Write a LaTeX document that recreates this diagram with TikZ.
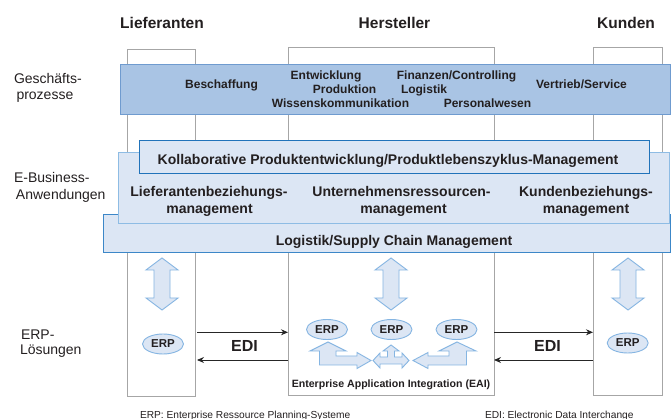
\documentclass[tikz,border=0pt]{standalone}
\usepackage{fontspec}
\setmainfont{Liberation Sans}
\usetikzlibrary{shapes.geometric,arrows.meta}
\definecolor{colgray}{HTML}{A6A6A6}
\definecolor{gpfill}{HTML}{A9C4E4}
\definecolor{gpdraw}{HTML}{6F9BCF}
\definecolor{ebfill}{HTML}{DCE6F4}
\definecolor{ebdark}{HTML}{2173BA}
\definecolor{eblight}{HTML}{8EBCE4}
\definecolor{ebmid}{HTML}{3C87C8}
\definecolor{arrdraw}{HTML}{85B5E2}
\definecolor{txt}{HTML}{231F20}
\newcommand\fhead{\fontsize{15.5}{18}\selectfont\bfseries}
\newcommand\fgp{\fontsize{12}{14}\selectfont\bfseries}
\newcommand\feb{\fontsize{14}{16}\selectfont\bfseries}
\newcommand\flab{\fontsize{14}{16}\selectfont}
\newcommand\fedi{\fontsize{16}{18}\selectfont\bfseries}
\newcommand\ferp{\fontsize{11.5}{13}\selectfont\bfseries}
\newcommand\feai{\fontsize{10.6}{12}\selectfont\bfseries}
\newcommand\fnote{\fontsize{10.2}{12}\selectfont}
\begin{document}
\begin{tikzpicture}[x=1pt,y=-1pt,
  every node/.style={inner sep=0pt, outer sep=0pt, text=txt},
  colbox/.style={draw=colgray, fill=white, line width=0.9, anchor=north west},
  gpband/.style={draw=gpdraw, fill=gpfill, line width=1, anchor=north west},
  ebbox/.style={fill=ebfill, line width=0.85, anchor=north west},
  gptext/.style={font=\fgp, anchor=base},
  ebtext/.style={font=\feb, anchor=base},
  lab/.style={font=\flab, anchor=base west},
  head/.style={font=\fhead, anchor=base},
  erp/.style={ellipse, draw=arrdraw, fill=ebfill, line width=0.9, minimum width=41, minimum height=20, font=\ferp},
  blockarr/.style={draw=arrdraw, fill=ebfill, line width=0.9, line join=miter},
  edi/.style={draw=black!85, line width=0.9, -{Stealth[length=7pt,width=6pt]}},
  vdbl/.pic={\path[blockarr] (0,0) -- (16,12) -- (8,12) -- (8,40) -- (16,40) -- (0,52) -- (-16,40) -- (-8,40) -- (-8,12) -- (-16,12) -- cycle;}
]
\useasboundingbox (0,0) rectangle (672,419);

% columns
\node[colbox, minimum width=68, minimum height=347] (lief) at (127,49) {};
\node[colbox, minimum width=206, minimum height=348] (herst) at (288,47) {};
\node[colbox, minimum width=69, minimum height=348] (kund) at (593,47) {};

% headers
\node[head] (hl) at (162,29) {Lieferanten};
\node[head] (hh) at (394.5,29) {Hersteller};
\node[head] (hk) at (626,29) {Kunden};

% left labels
\node[lab] (l1a) at (14,84) {Geschäfts-};
\node[lab] (l1b) at (16.5,100) {prozesse};
\node[lab] (l2a) at (14,183) {E-Business-};
\node[lab] (l2b) at (16,200) {Anwendungen};
\node[lab] (l3a) at (21,340) {ERP-};
\node[lab] (l3b) at (20,355) {Lösungen};

% Geschaeftsprozesse band
\node[gpband, minimum width=550, minimum height=50] (gp) at (120,65) {};
\node[gptext] (g1) at (221.5,89) {Beschaffung};
\node[gptext] (g2) at (326,80) {Entwicklung};
\node[gptext] (g3) at (344.5,94) {Produktion};
\node[gptext] (g4) at (340.5,108) {Wissenskommunikation};
\node[gptext] (g5) at (456.5,80) {Finanzen/Controlling};
\node[gptext] (g6) at (424,94) {Logistik};
\node[gptext] (g7) at (487.5,108) {Personalwesen};
\node[gptext] (g8) at (581.5,89) {Vertrieb/Service};

% E-Business bands
\node[ebbox, draw=ebmid, minimum width=567, minimum height=38] (scm) at (103,214) {};
\node[ebbox, draw=eblight, minimum width=551, minimum height=71] (mid) at (118,152) {};
\node[ebbox, draw=ebdark, minimum width=510, minimum height=33] (plm) at (139,140) {};
\node[ebtext] (e1) at (388,165) {Kollaborative Produktentwicklung/Produktlebenszyklus-Management};
\node[ebtext] (e2a) at (209,197) {Lieferantenbeziehungs-};
\node[ebtext] (e2b) at (209.5,214) {management};
\node[ebtext] (e3a) at (401.5,197) {Unternehmensressourcen-};
\node[ebtext] (e3b) at (403.5,214) {management};
\node[ebtext] (e4a) at (586,197) {Kundenbeziehungs-};
\node[ebtext] (e4b) at (586,214) {management};
\node[ebtext] (e5) at (394,245.5) {Logistik/Supply Chain Management};

% vertical block arrows
\pic at (162,258) {vdbl};
\pic at (391,258) {vdbl};
\pic at (628,258) {vdbl};

% ERP ellipses
\node[erp] (erpL) at (163,344) {ERP};
\node[erp] (erpH1) at (327,329.5) {ERP};
\node[erp] (erpH2) at (391.5,329.5) {ERP};
\node[erp] (erpH3) at (456.5,329.5) {ERP};
\node[erp] (erpK) at (627.7,343) {ERP};

% EAI arrows
\path[blockarr] (328,342) -- (346,351) -- (336,351) -- (336,356) -- (357,356) -- (357,352.5) -- (371,360.5) -- (357,368.5) -- (357,365) -- (319.5,365) -- (319.5,351) -- (310,351) -- cycle;
\path[blockarr] (457,342) -- (476,351) -- (466.5,351) -- (466.5,365) -- (428,365) -- (428,368.5) -- (413,360.5) -- (428,352.5) -- (428,356) -- (449,356) -- (449,351) -- (439,351) -- cycle;
\path[blockarr] (391,345) -- (399,351) -- (394.5,351) -- (394.5,357) -- (402,357) -- (402,353) -- (409,360.5) -- (402,368) -- (402,364) -- (380,364) -- (380,368) -- (373,360.5) -- (380,353) -- (380,357) -- (387.5,357) -- (387.5,351) -- (383,351) -- cycle;
\node[font=\feai, anchor=base] (eai) at (391,388) {Enterprise Application Integration (EAI)};

% EDI connectors
\coordinate (ediU) at (0,332.3);
\coordinate (ediD) at (0,360);
\draw[edi, shorten <=2pt] (lief.east |- ediU) -- (herst.west |- ediU);
\draw[edi, shorten >=2pt] (herst.west |- ediD) -- (lief.east |- ediD);
\draw[edi] (herst.east |- ediU) -- (kund.west |- ediU);
\draw[edi] (kund.west |- ediD) -- (herst.east |- ediD);
\node[font=\fedi] (edi1) at (244.5,346) {EDI};
\node[font=\fedi] (edi2) at (547.5,346) {EDI};

% footnotes
\node[font=\fnote, anchor=base west] (n1) at (140,418) {ERP: Enterprise Ressource Planning-Systeme};
\node[font=\fnote, anchor=base west] (n2) at (485,418) {EDI: Electronic Data Interchange};
\end{tikzpicture}
\end{document}
